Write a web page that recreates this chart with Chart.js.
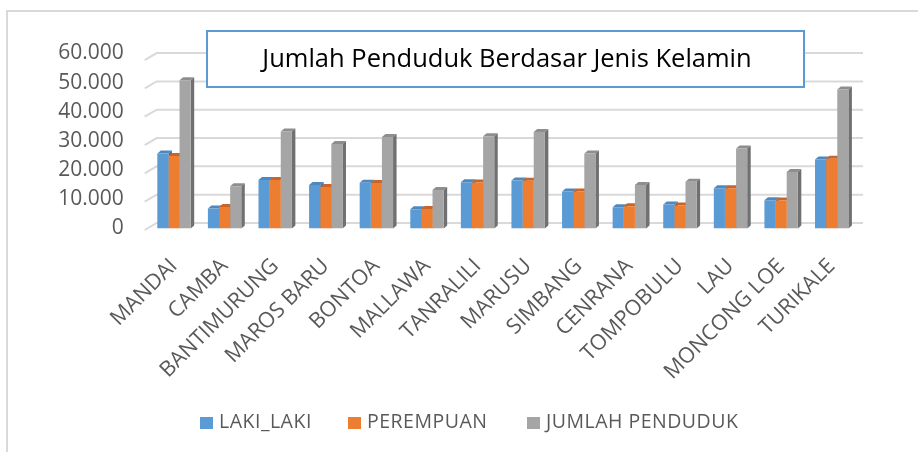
<!DOCTYPE html>
<html>
<head>
<meta charset="utf-8">
<script src="https://cdn.jsdelivr.net/npm/chart.js@4.4.1/dist/chart.umd.min.js"></script>
<style>
  body { margin: 0; background: #fff; }
  #wrap { position: relative; width: 918px; height: 452px; overflow: hidden; }
  #frame { position: absolute; left: 6px; top: 10px; width: 1000px; height: 600px; border-top: 2px solid #d9d9d9; border-left: 2px solid #d9d9d9; }
  #myChart { position: absolute; left: 0; top: 0; }
  .lg { position: absolute; top: 410px; font: 19.5px "Open Sans", sans-serif; letter-spacing: 0.5px; color: #595959; white-space: nowrap; line-height: 22px; }
  .lg i { display: inline-block; width: 13px; height: 12px; margin-right: 6px; vertical-align: -1px; }
</style>
</head>
<body>
<div id="wrap">
  <div id="frame"></div>
  <canvas id="myChart" width="918" height="452"></canvas>
  <div class="lg" style="left:200px"><i style="background:#5B9BD5"></i>LAKI_LAKI</div>
  <div class="lg" style="left:348px"><i style="background:#ED7D31"></i>PEREMPUAN</div>
  <div class="lg" style="left:527px"><i style="background:#A5A5A5"></i>JUMLAH PENDUDUK</div>
</div>
<script>
const categories = ['MANDAI', 'CAMBA', 'BANTIMURUNG', 'MAROS BARU', 'BONTOA', 'MALLAWA', 'TANRALILI', 'MARUSU', 'SIMBANG', 'CENRANA', 'TOMPOBULU', 'LAU', 'MONCONG LOE', 'TURIKALE']
const lakiLaki = [25700, 6900, 16600, 14900, 15700, 6600, 15900, 16500, 12700, 7300, 8200, 13800, 9700, 23700]
const perempuan = [24900, 7400, 16600, 14200, 15600, 6700, 15800, 16400, 12700, 7600, 7900, 13800, 9600, 23900]
const jumlahPenduduk = [50800, 14500, 33300, 29000, 31400, 13200, 31600, 33100, 25700, 14900, 16000, 27400, 19400, 47700]
const yTicks = [0, 10000, 20000, 30000, 40000, 50000, 60000]
const title = 'Jumlah Penduduk Berdasar Jenis Kelamin'

const faceColors = [
  { top: '#4f88bd', side: '#3f70a0' },
  { top: '#c9652a', side: '#a85220' },
  { top: '#8e8e8e', side: '#707070' }
]
const DX = 3.5, DY = 3

const fmt = (v) => String(v).replace(/\B(?=(\d{3})+(?!\d))/g, '.')

// back grid lines with the little 3d slant on the left
const grid3d = {
  id: 'grid3d',
  beforeDatasetsDraw(chart) {
    const { ctx, chartArea } = chart
    const ys = chart.scales.y
    ctx.save()
    ctx.strokeStyle = '#d9d9d9'
    ctx.lineWidth = 2
    yTicks.forEach((v) => {
      const fy = ys.getPixelForValue(v)
      const by = chartArea.bottom - 5.5 - (chartArea.bottom - fy) * 0.971
      ctx.beginPath()
      ctx.moveTo(chartArea.left - 4, by + 7)
      ctx.lineTo(chartArea.left + 8, by)
      ctx.lineTo(863, by)
      ctx.stroke()
    })
    ctx.restore()
  }
}

// top and side faces of the bars, drawn behind the front faces
const bars3d = {
  id: 'bars3d',
  beforeDatasetsDraw(chart) {
    const ctx = chart.ctx
    ctx.save()
    chart.data.datasets.forEach((ds, i) => {
      chart.getDatasetMeta(i).data.forEach((bar) => {
        const { x, y, base, width } = bar.getProps(['x', 'y', 'base', 'width'], true)
        const l = x - width / 2, r = x + width / 2
        ctx.fillStyle = faceColors[i].top
        ctx.beginPath()
        ctx.moveTo(l, y); ctx.lineTo(l + DX, y - DY); ctx.lineTo(r + DX, y - DY); ctx.lineTo(r, y)
        ctx.closePath(); ctx.fill()
        ctx.fillStyle = faceColors[i].side
        ctx.beginPath()
        ctx.moveTo(r, y); ctx.lineTo(r + DX, y - DY); ctx.lineTo(r + DX, base - DY); ctx.lineTo(r, base)
        ctx.closePath(); ctx.fill()
      })
    })
    ctx.restore()
  }
}

const titleBox = {
  id: 'titleBox',
  afterDraw(chart) {
    const ctx = chart.ctx
    ctx.save()
    ctx.fillStyle = '#fff'
    ctx.fillRect(207, 31, 597, 56)
    ctx.strokeStyle = '#5B9BD5'
    ctx.lineWidth = 2
    ctx.strokeRect(207, 31, 597, 56)
    ctx.fillStyle = '#000'
    ctx.font = '25.5px "Open Sans", sans-serif'
    ctx.textAlign = 'center'
    ctx.textBaseline = 'middle'
    ctx.fillText(title, 507, 60)
    ctx.restore()
  }
}

window.onload = () => {
  const ctx = document.getElementById('myChart')
  new Chart(ctx, {
    type: 'bar',
    data: {
      labels: categories,
      datasets: [
        { label: 'LAKI_LAKI', data: lakiLaki, backgroundColor: '#5B9BD5' },
        { label: 'PEREMPUAN', data: perempuan, backgroundColor: '#ED7D31' },
        { label: 'JUMLAH PENDUDUK', data: jumlahPenduduk, backgroundColor: '#A5A5A5' }
      ]
    },
    options: {
      responsive: false,
      animation: false,
      events: [],
      layout: { padding: { top: 53.5, right: 61, bottom: 0, left: 0 } },
      datasets: { bar: { categoryPercentage: 0.66, barPercentage: 1 } },
      plugins: { legend: { display: false }, tooltip: { enabled: false } },
      scales: {
        x: {
          grid: { display: false, drawTicks: false },
          border: { display: false },
          afterFit: (s) => { s.height = 452 - 228.5 },
          ticks: {
            autoSkip: false, minRotation: 45, maxRotation: 45, padding: 25,
            color: '#595959', font: { family: 'Open Sans', size: 21.5 }
          }
        },
        y: {
          min: 0, max: 60000,
          grid: { display: false, drawTicks: false },
          border: { display: false },
          afterFit: (s) => { s.width = 148.7 },
          afterBuildTicks: (s) => { s.ticks = yTicks.map((v) => ({ value: v })) },
          ticks: {
            padding: 25, color: '#595959', font: { family: 'Open Sans', size: 21 },
            callback: (v) => fmt(v)
          }
        }
      }
    },
    plugins: [grid3d, bars3d, titleBox]
  })
}
</script>
</body>
</html>
